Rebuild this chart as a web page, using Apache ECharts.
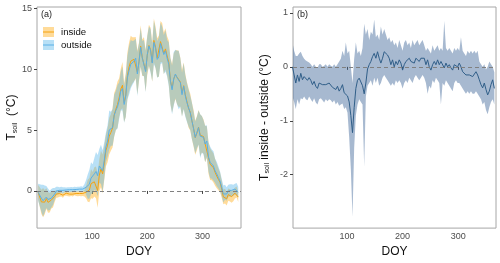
<!DOCTYPE html>
<html><head><meta charset="utf-8">
<script src="https://cdn.jsdelivr.net/npm/echarts@6/dist/echarts.min.js"></script>
<style>html,body{margin:0;padding:0;background:#fff}#c{width:500px;height:263px}</style>
</head><body><div id="c"></div>
<script>
// ---- DATA ----
const days = [2,5,8,11,14,17,20,23,26,29,32,35,38,41,44,47,50,53,56,59,62,65,68,71,74,77,80,83,86,89,92,95,98,101,104,107,110,113,116,119,122,125,128,131,134,137,140,143,146,149,152,155,158,161,164,167,170,173,176,179,182,185,188,191,194,197,200,203,206,209,212,215,218,221,224,227,230,233,236,239,242,245,248,251,254,257,260,263,266,269,272,275,278,281,284,287,290,293,296,299,302,305,308,311,314,317,320,323,326,329,332,335,338,341,344,347,350,353,356,359,362,365];

const outsideMean = [-0.1,-0.35,-0.6,-0.8,-0.65,-0.5,-0.7,-0.78,-0.6,-0.45,
 -0.25,0.0,0.05,0.05,0.1,0.05,0.1,0.08,0.1,0.1,
 0.12,0.1,0.15,0.12,0.15,0.15,0.18,0.15,0.25,0.3,
 0.35,0.55,1.05,1.0,1.4,1.6,1.25,2.05,2.2,1.65,
 2.5,3.6,4.1,5.0,5.1,5.2,6.2,6.6,6.9,7.4,
 8.2,8.4,7.1,7.8,9.3,9.9,10.4,10.5,10.65,10.9,
 9.6,10.6,11.8,10.9,10.9,9.8,11.2,11.9,11.5,10.5,
 12.2,11.7,10.8,11.0,12.1,12.0,11.2,11.5,10.9,10.4,
 9.0,8.3,9.2,9.6,9.3,9.1,8.9,7.9,8.6,7.8,
 7.25,6.8,6.4,5.75,5.1,4.4,4.8,5.2,4.5,4.65,
 4.4,3.85,4.1,2.8,2.35,2.2,2.05,1.65,1.4,1.1,
 0.8,0.3,-0.25,-0.1,-0.25,0.0,0.05,0.05,0.05,0.15,
 0.15,-0.1];

const insideMean = [-0.1,-0.5,-0.9,-0.95,-0.92,-0.62,-0.94,-0.96,-0.75,-0.7,
 -0.45,-0.25,-0.28,-0.22,-0.26,-0.35,-0.2,-0.19,-0.23,-0.26,
 -0.21,-0.26,-0.15,-0.21,-0.23,-0.21,-0.24,-0.21,-0.2,-0.1,
 0.02,0.07,0.6,0.46,0.75,0.7,0.03,1.3,1.8,1.4,
 2.29,3.32,3.75,4.5,4.8,5.16,6.24,6.7,7.09,7.65,
 8.36,8.68,7.26,7.87,9.46,10.18,10.65,10.72,10.81,10.94,
 9.73,10.6,11.9,10.94,11.03,9.87,11.14,11.94,11.6,10.57,
 12.36,11.8,10.93,11.07,12.26,12.19,11.3,11.66,11.09,10.56,
 9.04,8.43,9.2,9.54,9.34,9.2,8.94,8.03,8.64,7.9,
 7.32,6.78,6.47,5.75,5.14,4.38,4.74,5.24,4.57,4.65,
 4.47,3.85,4.01,2.74,2.2,2.08,1.9,1.53,1.22,0.95,
 0.71,0.15,-0.49,-0.43,-0.64,-0.3,-0.37,-0.47,-0.4,-0.18,
 -0.09,-0.5];

const outsideSd = [0.7,0.9,1.1,1.3,1.1,0.9,0.9,0.8,0.75,0.7,
 0.5,0.35,0.3,0.25,0.25,0.25,0.2,0.2,0.2,0.2,
 0.2,0.2,0.2,0.2,0.2,0.2,0.2,0.2,0.3,0.6,
 1.0,1.2,1.3,1.2,1.3,1.6,1.7,1.4,1.6,1.7,
 1.5,1.2,1.3,1.6,1.4,1.5,1.7,1.6,1.8,1.5,
 1.6,1.8,1.5,1.7,1.8,2.0,2.0,1.8,1.7,1.6,
 1.8,1.5,1.6,1.4,1.5,1.7,1.5,1.6,1.8,1.5,
 1.8,1.6,1.5,1.6,1.7,1.5,1.6,1.7,1.5,1.8,
 1.9,2.0,2.2,2.0,2.2,2.4,2.0,1.8,1.9,1.7,
 1.6,1.5,1.4,1.5,1.4,1.3,1.3,1.4,1.8,1.5,
 1.4,1.5,1.3,1.2,1.3,1.2,1.2,1.0,1.0,0.9,
 0.8,0.7,0.7,0.6,0.55,0.5,0.5,0.5,0.45,0.45,
 0.5,0.45];

const insideSd = [0.6,0.8,1.0,1.2,1.0,0.85,0.85,0.8,0.7,0.65,
 0.45,0.3,0.25,0.25,0.2,0.2,0.2,0.2,0.2,0.2,
 0.2,0.2,0.2,0.2,0.2,0.2,0.2,0.2,0.25,0.5,
 0.9,1.0,1.2,1.1,1.2,1.3,1.4,1.3,1.5,1.6,
 1.4,1.3,1.4,1.5,1.5,1.6,1.8,1.7,1.9,1.6,
 1.7,1.9,1.6,1.8,1.9,2.0,2.1,1.9,1.8,1.7,
 1.8,1.6,1.7,1.5,1.6,1.7,1.6,1.7,1.8,1.6,
 1.8,1.7,1.6,1.7,1.7,1.6,1.7,1.7,1.6,1.8,
 1.9,2.0,2.1,2.0,2.2,2.3,2.0,1.9,1.9,1.7,
 1.6,1.6,1.5,1.5,1.5,1.4,1.4,1.4,1.7,1.5,
 1.4,1.5,1.3,1.3,1.3,1.2,1.2,1.1,1.0,0.9,
 0.8,0.7,0.6,0.6,0.55,0.5,0.5,0.5,0.45,0.45,
 0.45,0.4];

const diffMean = [0.0,-0.15,-0.3,-0.15,-0.27,-0.12,-0.24,-0.18,-0.15,-0.25,
 -0.2,-0.25,-0.33,-0.27,-0.36,-0.4,-0.3,-0.27,-0.33,-0.36,
 -0.33,-0.36,-0.3,-0.33,-0.38,-0.36,-0.42,-0.36,-0.45,-0.4,
 -0.33,-0.48,-0.45,-0.54,-0.65,-0.9,-1.22,-0.75,-0.4,-0.25,
 -0.21,-0.28,-0.35,-0.5,-0.3,-0.04,0.04,0.1,0.19,0.25,
 0.16,0.28,0.16,0.07,0.16,0.28,0.25,0.22,0.16,0.04,
 0.13,0.0,0.1,0.04,0.13,0.07,-0.06,0.04,0.1,0.07,
 0.16,0.1,0.13,0.07,0.16,0.19,0.1,0.16,0.19,0.16,
 0.04,0.13,0.0,-0.06,0.04,0.1,0.04,0.13,0.04,0.1,
 0.07,-0.02,0.07,0.0,0.04,-0.02,-0.06,0.04,0.07,0.0,
 0.07,0.0,-0.09,-0.06,-0.15,-0.12,-0.15,-0.12,-0.18,-0.15,
 -0.09,-0.15,-0.24,-0.33,-0.39,-0.3,-0.42,-0.52,-0.45,-0.33,
 -0.24,-0.4];

const diffUpper = [0.45,0.3,0.2,0.2,0.25,0.28,0.2,0.15,0.12,0.1,
 0.08,0.05,0.0,0.05,0.0,-0.02,0.05,0.05,0.0,0.02,
 0.05,0.0,0.05,0.02,0.0,0.05,0.0,0.05,0.1,0.15,
 0.3,0.2,0.45,0.25,0.3,0.0,-0.3,0.15,0.45,0.25,
 0.3,0.2,0.35,0.8,0.6,0.7,0.5,0.65,0.6,0.88,
 0.55,0.6,0.5,0.75,0.6,0.7,0.6,0.5,0.55,0.45,
 0.5,0.4,0.45,0.35,0.5,0.4,0.3,0.45,0.5,0.4,
 0.45,0.35,0.5,0.4,0.45,0.5,0.4,0.45,0.5,0.4,
 0.3,0.35,0.3,0.25,0.4,0.3,0.35,0.4,0.3,0.35,
 0.3,0.85,0.35,0.3,0.35,0.3,0.25,0.35,0.3,0.35,
 0.3,0.55,0.3,0.25,0.2,0.3,0.25,0.3,0.25,0.3,
 0.25,0.3,0.1,0.05,0.0,0.05,-0.05,0.0,0.1,0.05,
 0.0,-0.1];

const diffLower = [-0.55,-0.65,-0.78,-0.6,-0.7,-0.58,-0.6,-0.55,-0.6,-0.62,
 -0.55,-0.6,-0.65,-0.58,-0.66,-0.7,-0.6,-0.58,-0.62,-0.66,
 -0.6,-0.64,-0.6,-0.62,-0.66,-0.62,-0.7,-0.65,-0.72,-0.7,
 -0.68,-0.78,-0.75,-0.85,-1.3,-1.9,-2.78,-1.5,-0.9,-0.7,
 -0.6,-0.65,-0.7,-1.85,-0.55,-0.35,-0.3,-0.25,-0.35,-0.2,
 -0.3,-0.2,-0.35,-0.3,-0.2,-0.15,-0.2,-0.25,-0.3,-0.35,
 -0.3,-0.35,-0.25,-0.3,-0.25,-0.3,-0.4,-0.3,-0.25,-0.3,
 -0.2,-0.25,-0.3,-0.2,-0.15,-0.2,-0.25,-0.2,-0.15,-0.2,
 -0.3,-0.5,-0.35,-0.4,-0.25,-0.3,-0.2,-0.25,-0.3,-0.7,
 -0.3,-0.35,-0.25,-0.3,-0.35,-0.4,-0.45,-0.3,-0.25,-0.3,
 -0.3,-0.35,-0.4,-0.45,-0.5,-0.45,-0.5,-0.45,-0.5,-0.5,
 -0.45,-0.5,-0.55,-0.6,-0.7,-0.65,-0.8,-0.88,-0.75,-0.65,
 -0.6,-0.7];

const xTicks = [100, 200, 300];
const yTicksA = [0, 5, 10, 15];
const yTicksB = [-2, -1, 0, 1];
const legendNames = ['inside', 'outside'];
const panelTags = ['(a)', '(b)'];

// ---- CHART ----
const FONT = '"Liberation Sans", Arial, sans-serif';
const C_IN = '#F5A20F', C_IN_BAND = 'rgba(255,165,0,0.40)';
const C_OUT = '#5AB0E6', C_OUT_BAND = 'rgba(86,180,233,0.42)';
const C_DIFF = '#305E88', C_DIFF_BAND = 'rgba(60,100,150,0.45)';

function bandSeries(lo, hi, fill, ax) {
  return {
    type: 'custom', xAxisIndex: ax, yAxisIndex: ax, silent: true, clip: true,
    data: days.map((d, i) => [d, lo[i], hi[i]]),
    encode: { x: 0, y: [1, 2] },
    renderItem: function (params, api) {
      if (params.dataIndex !== 0) return null;
      const pts = [];
      for (let i = 0; i < days.length; i++) pts.push(api.coord([days[i], hi[i]]));
      for (let i = days.length - 1; i >= 0; i--) pts.push(api.coord([days[i], lo[i]]));
      return { type: 'polygon', shape: { points: pts }, style: { fill: fill, stroke: null } };
    }
  };
}
const zeroLine = {
  silent: true, symbol: 'none', label: { show: false },
  lineStyle: { type: [4, 3], color: '#808080', width: 1 },
  data: [{ yAxis: 0 }]
};

const inLo = insideMean.map((m, i) => m - insideSd[i]);
const inHi = insideMean.map((m, i) => m + insideSd[i]);
const outLo = outsideMean.map((m, i) => m - outsideSd[i]);
const outHi = outsideMean.map((m, i) => m + outsideSd[i]);

function xAx(idx, min, max) {
  return {
    type: 'value', gridIndex: idx, min: min, max: max,
    axisLine: { show: false }, splitLine: { show: false },
    axisTick: { show: true, customValues: xTicks, length: 3, lineStyle: { color: '#444' } },
    axisLabel: { customValues: xTicks, margin: 4, fontSize: 9, color: '#4d4d4d', fontFamily: FONT },
    name: 'DOY', nameLocation: 'middle', nameGap: 12,
    nameTextStyle: { fontSize: 12, color: '#111', fontFamily: FONT }
  };
}
function yAx(idx, min, max, ticks, name, gap) {
  return {
    type: 'value', gridIndex: idx, min: min, max: max,
    axisLine: { show: false }, splitLine: { show: false },
    axisTick: { show: true, customValues: ticks, length: 3, lineStyle: { color: '#444' } },
    axisLabel: { customValues: ticks, margin: 5, fontSize: 9, color: '#4d4d4d', fontFamily: FONT },
    name: name, nameLocation: 'middle', nameGap: gap,
    nameTextStyle: {
      color: '#111', fontFamily: FONT, fontSize: 12,
      rich: {
        t: { fontSize: 12, color: '#111', fontFamily: FONT },
        s: { fontSize: 7, color: '#111', fontFamily: FONT, verticalAlign: 'bottom', lineHeight: 9 },
        n: { fontSize: 12, color: '#111', fontFamily: FONT }
      }
    }
  };
}

const chart = echarts.init(document.getElementById('c'), null, { renderer: 'canvas' });
chart.setOption({
  animation: false,
  backgroundColor: '#fff',
  grid: [
    { left: 37, top: 7, width: 204, height: 222, show: true, borderColor: '#a6a6a6', borderWidth: 1, backgroundColor: 'transparent' },
    { left: 293, top: 7, width: 203, height: 222, show: true, borderColor: '#a6a6a6', borderWidth: 1, backgroundColor: 'transparent' }
  ],
  xAxis: [xAx(0, 0, 370), xAx(1, 3, 368)],
  yAxis: [
    yAx(0, -3.05, 15.1, yTicksA, '{t|T}{s|soil}{n|  (°C)}', 17),
    yAx(1, -2.99, 1.11, yTicksB, '{t|T}{s|soil}{n| inside - outside (°C)}', 22)
  ],
  series: [
    bandSeries(inLo, inHi, C_IN_BAND, 0),
    bandSeries(outLo, outHi, C_OUT_BAND, 0),
    { type: 'line', xAxisIndex: 0, yAxisIndex: 0, showSymbol: false, silent: true,
      data: days.map((d, i) => [d, insideMean[i]]), lineStyle: { color: C_IN, width: 1 } },
    { type: 'line', xAxisIndex: 0, yAxisIndex: 0, showSymbol: false, silent: true,
      data: days.map((d, i) => [d, outsideMean[i]]), lineStyle: { color: C_OUT, width: 1 },
      markLine: zeroLine },
    bandSeries(diffLower, diffUpper, C_DIFF_BAND, 1),
    { type: 'line', xAxisIndex: 1, yAxisIndex: 1, showSymbol: false, silent: true,
      data: days.map((d, i) => [d, diffMean[i]]), lineStyle: { color: C_DIFF, width: 1 },
      markLine: zeroLine }
  ],
  graphic: [
    { type: 'text', left: 41, top: 10, style: { text: panelTags[0], fontSize: 9, fill: '#222', fontFamily: FONT } },
    { type: 'text', left: 297, top: 10, style: { text: panelTags[1], fontSize: 9, fill: '#222', fontFamily: FONT } },
    { type: 'rect', shape: { x: 43, y: 27, width: 11, height: 10 }, style: { fill: C_IN_BAND } },
    { type: 'line', shape: { x1: 43, y1: 32, x2: 54, y2: 32 }, style: { stroke: C_IN, lineWidth: 1 } },
    { type: 'rect', shape: { x: 43, y: 40, width: 11, height: 10 }, style: { fill: C_OUT_BAND } },
    { type: 'line', shape: { x1: 43, y1: 45, x2: 54, y2: 45 }, style: { stroke: C_OUT, lineWidth: 1 } },
    { type: 'text', x: 61, y: 32.5, style: { text: legendNames[0], fontSize: 9.6, fill: '#111', fontFamily: FONT, verticalAlign: 'middle' } },
    { type: 'text', x: 61, y: 45.5, style: { text: legendNames[1], fontSize: 9.6, fill: '#111', fontFamily: FONT, verticalAlign: 'middle' } }
  ]
});
</script></body></html>
